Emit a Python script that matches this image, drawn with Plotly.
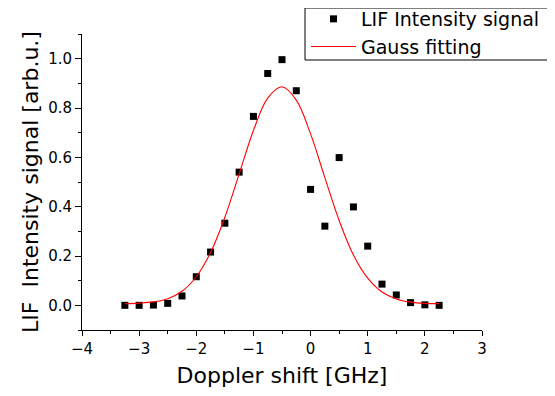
import plotly.graph_objects as go

# Measured data (LIF intensity, normalised)
shift_ghz = [-3.25, -3.0, -2.75, -2.5, -2.25, -2.0, -1.75, -1.5, -1.25, -1.0, -0.75, -0.5,
             -0.25, 0.0, 0.25, 0.5, 0.75, 1.0, 1.25, 1.5, 1.75, 2.0, 2.25]
lif_signal = [0.0, 0.0, 0.001, 0.008, 0.038, 0.116, 0.216, 0.333, 0.540, 0.766, 0.940, 0.996,
              0.870, 0.470, 0.321, 0.599, 0.399, 0.240, 0.086, 0.042, 0.011, 0.002, 0.0]

# Gauss fitting curve
fit_x = [-3.25, -3.0, -2.75, -2.5, -2.25, -2.0, -1.75, -1.5, -1.25, -1.0, -0.75, -0.5,
         -0.25, 0.0, 0.25, 0.5, 0.75, 1.0, 1.25, 1.5, 1.75, 2.0, 2.25]
fit_y = [0.007, 0.009, 0.014, 0.027, 0.057, 0.116, 0.214, 0.357, 0.532, 0.709, 0.840, 0.886,
         0.832, 0.695, 0.518, 0.344, 0.204, 0.110, 0.054, 0.026, 0.013, 0.008, 0.007]

x_ticks = [-4, -3, -2, -1, 0, 1, 2, 3]
y_ticks = [0.0, 0.2, 0.4, 0.6, 0.8, 1.0]

FONT = "DejaVu Sans, sans-serif"

# The page places the figure 8 px in from the window corner (default body margin),
# so the figure is sized/positioned in window coordinates minus that offset.
OFF = 8
W, H = 555 - OFF, 396 - OFF
L, R, T, B = 82 - OFF, 482 - OFF, 34 - OFF, 330 - OFF

def px_x(p):
    return (p - OFF - L) / (R - L)

def px_y(p):
    return (B - (p - OFF)) / (B - T)

fig = go.Figure()
fig.add_trace(go.Scatter(
    x=shift_ghz, y=lif_signal, mode="markers", name="LIF Intensity signal",
    marker=dict(symbol="square", size=7, color="black", line=dict(width=0)),
))
fig.add_trace(go.Scatter(
    x=fit_x, y=fit_y, mode="lines", name="Gauss fitting",
    line=dict(color="#ff0000", width=1.1, shape="spline", smoothing=1.0),
))

# legend frame (window px 305..554, 8..60)
fig.add_shape(type="rect", xref="paper", yref="paper",
              x0=px_x(305), x1=px_x(554), y0=px_y(60), y1=px_y(8),
              line=dict(color="black", width=1), fillcolor="white", layer="below")

fig.update_layout(
    width=W, height=H,
    margin=dict(l=L, r=W - R, t=T, b=H - B, autoexpand=False),
    paper_bgcolor="white", plot_bgcolor="rgba(0,0,0,0)",
    font=dict(family=FONT, color="black", size=15),
    legend=dict(
        xref="paper", yref="paper",
        x=px_x(306), y=px_y(0), xanchor="left", yanchor="top",
        borderwidth=0, bgcolor="rgba(0,0,0,0)",
        font=dict(size=19, family=FONT),
        itemwidth=45, tracegroupgap=0,
    ),
    xaxis=dict(
        range=[-4, 3], tickmode="array", tickvals=x_ticks,
        ticktext=["\u2212" + str(abs(v)) if v < 0 else str(v) for v in x_ticks],
        showgrid=False, zeroline=False, showline=True, linecolor="black", linewidth=1,
        ticks="outside", ticklen=5, tickcolor="black", tickwidth=1,
        minor=dict(dtick=0.5, ticks="outside", ticklen=3, tickcolor="black", showgrid=False),
        title=dict(text="Doppler shift [GHz]", font=dict(size=22), standoff=10),
        tickfont=dict(size=15),
    ),
    yaxis=dict(
        range=[-0.1, 1.1], tickmode="array", tickvals=y_ticks,
        ticktext=[f"{v:.1f}" for v in y_ticks],
        showgrid=False, zeroline=False, showline=True, linecolor="black", linewidth=1,
        ticks="outside", ticklen=6, tickcolor="black", tickwidth=1,
        minor=dict(dtick=0.1, ticks="outside", ticklen=3, tickcolor="black", showgrid=False),
        title=dict(text="LIF&nbsp;&nbsp;Intensity signal [arb.u.]", font=dict(size=22), standoff=3),
        tickfont=dict(size=15),
    ),
)

fig.write_html("out.html")
